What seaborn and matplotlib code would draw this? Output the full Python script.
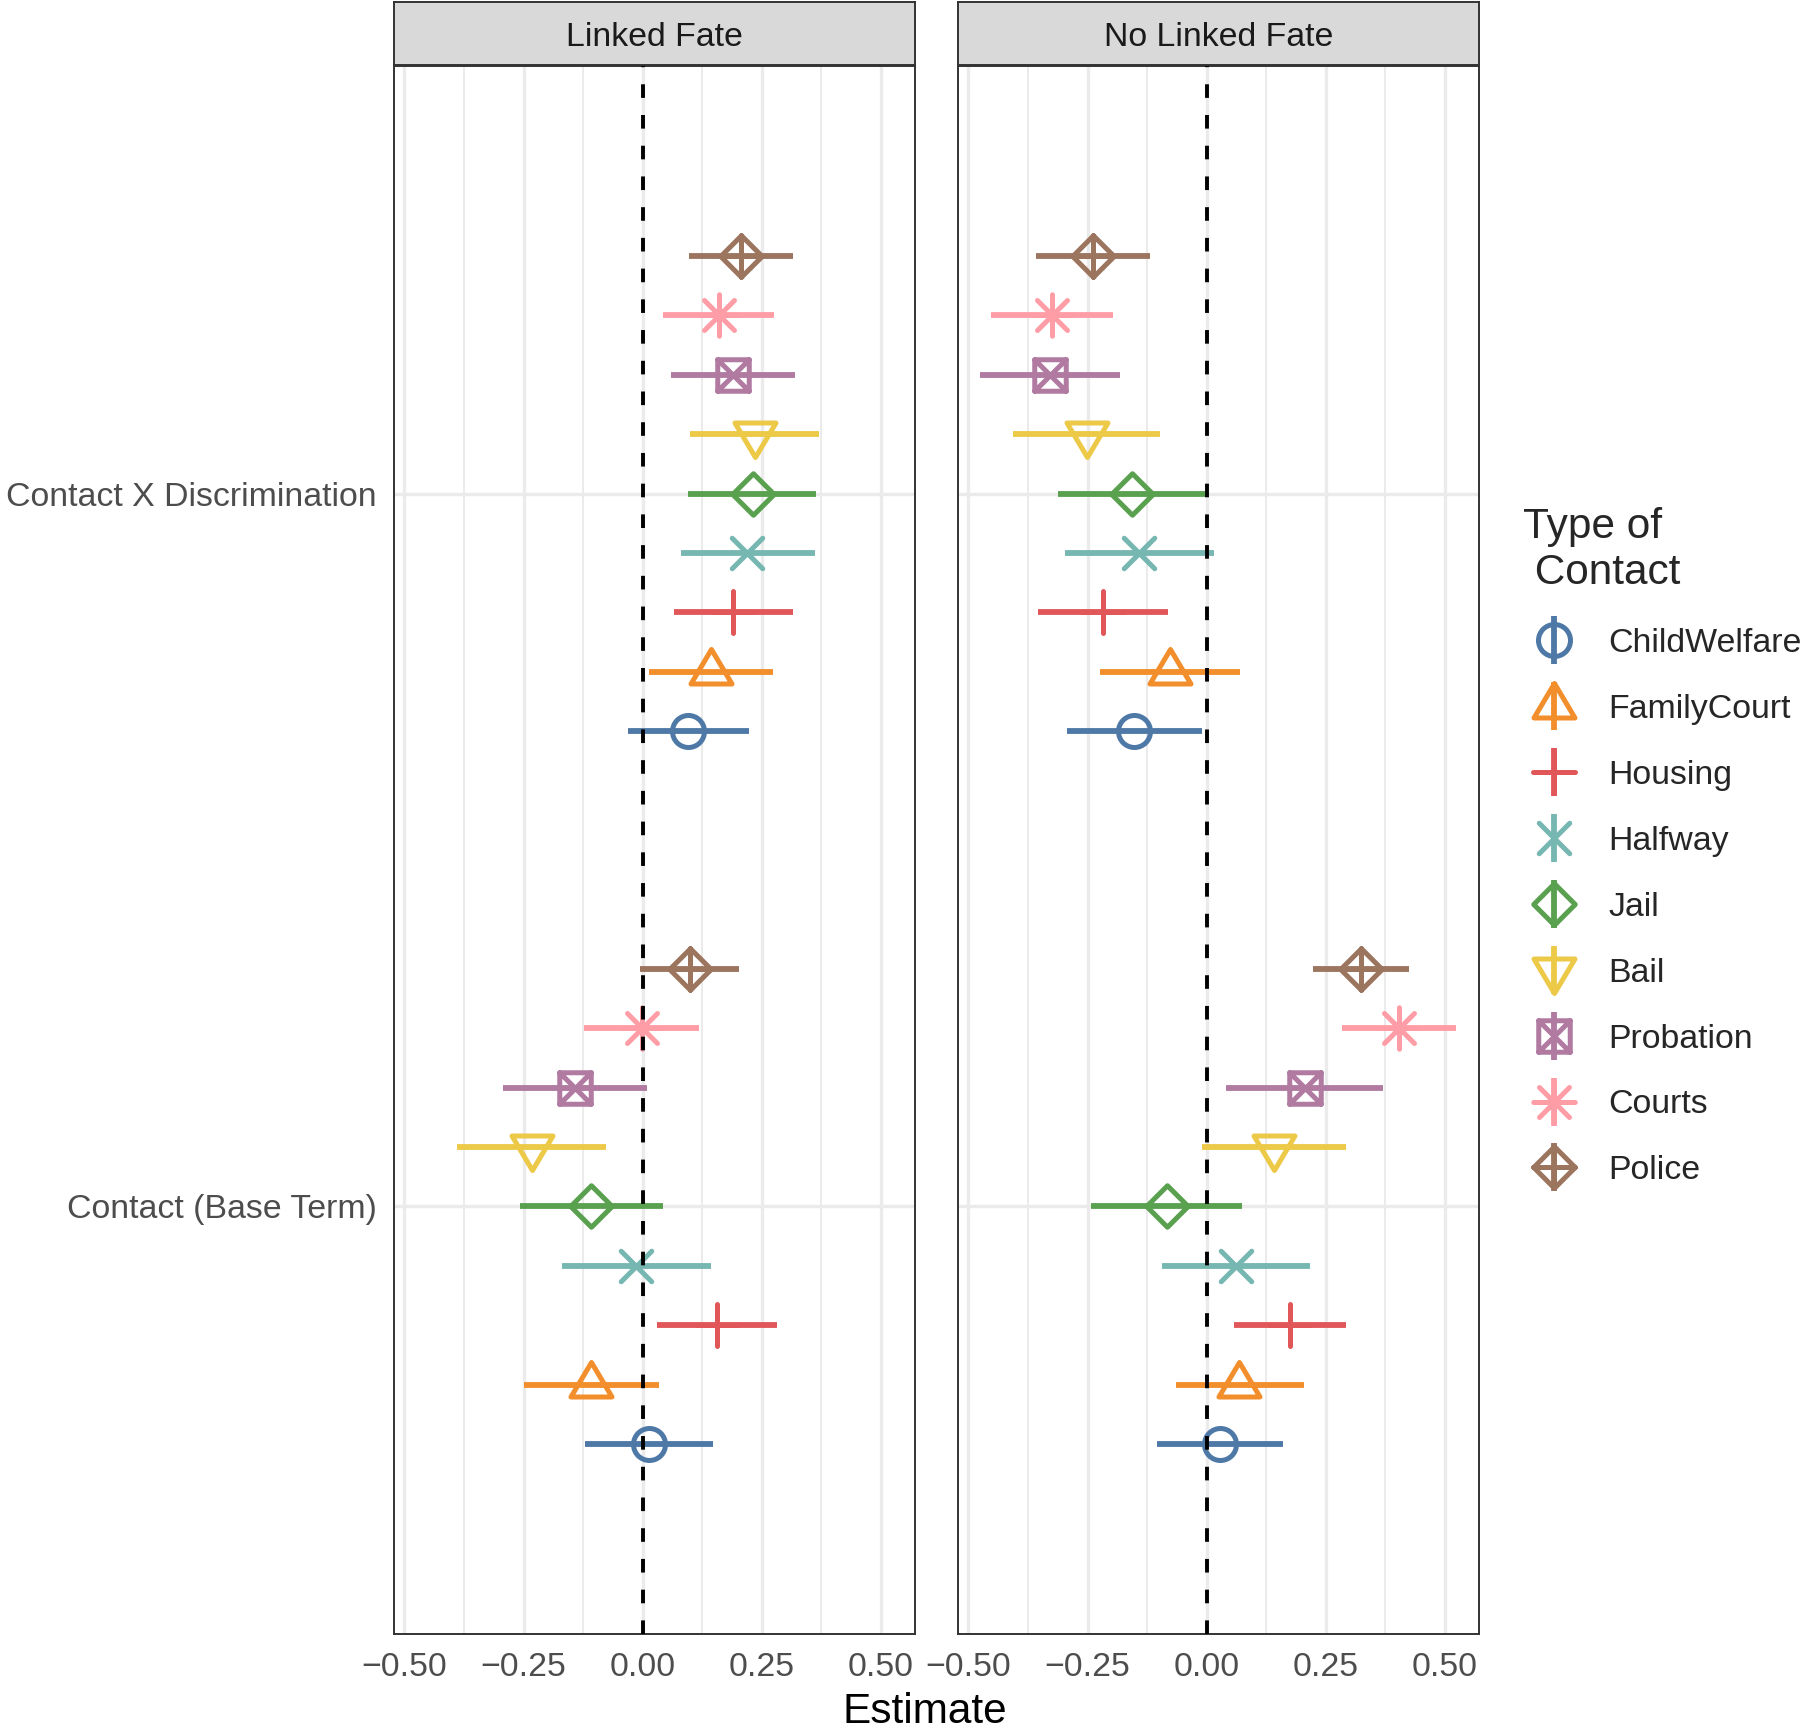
import matplotlib
matplotlib.use("Agg")
import matplotlib.pyplot as plt
from matplotlib.path import Path
from matplotlib.markers import MarkerStyle
from matplotlib.lines import Line2D
import pandas as pd
import seaborn as sns

contacts = ["ChildWelfare", "FamilyCourt", "Housing", "Halfway", "Jail",
            "Bail", "Probation", "Courts", "Police"]
terms = ["Contact X Discrimination", "Contact (Base Term)"]
facets = ["Linked Fate", "No Linked Fate"]
colors = ["#4E79A7", "#F28E2B", "#E15759", "#76B7B2", "#59A14F",
          "#EDC948", "#B07AA1", "#FF9DA7", "#9C755F"]
x_ticks = [-0.5, -0.25, 0.0, 0.25, 0.5]
x_labels = ["\u22120.50", "\u22120.25", "0.00", "0.25", "0.50"]

# estimate, lower and upper end of the interval (same order as contacts)
lf_int_est = [0.096, 0.143, 0.190, 0.220, 0.231, 0.235, 0.189, 0.160, 0.207]
lf_int_lo = [-0.030, 0.014, 0.066, 0.080, 0.096, 0.099, 0.059, 0.043, 0.098]
lf_int_hi = [0.223, 0.274, 0.315, 0.361, 0.364, 0.371, 0.319, 0.276, 0.315]

lf_base_est = [0.014, -0.108, 0.156, -0.013, -0.108, -0.233, -0.141, -0.002, 0.099]
lf_base_lo = [-0.120, -0.249, 0.030, -0.169, -0.258, -0.389, -0.294, -0.123, -0.005]
lf_base_hi = [0.148, 0.034, 0.282, 0.144, 0.043, -0.076, 0.010, 0.119, 0.202]

nlf_int_est = [-0.153, -0.076, -0.217, -0.142, -0.156, -0.252, -0.328, -0.325, -0.239]
nlf_int_lo = [-0.294, -0.224, -0.353, -0.297, -0.311, -0.407, -0.475, -0.453, -0.358]
nlf_int_hi = [-0.009, 0.071, -0.080, 0.015, 0.000, -0.097, -0.181, -0.196, -0.118]

nlf_base_est = [0.028, 0.069, 0.175, 0.062, -0.083, 0.141, 0.206, 0.404, 0.324]
nlf_base_lo = [-0.105, -0.064, 0.057, -0.093, -0.242, -0.010, 0.040, 0.285, 0.224]
nlf_base_hi = [0.161, 0.204, 0.293, 0.218, 0.074, 0.292, 0.371, 0.523, 0.424]

series = {
    (facets[0], terms[0]): (lf_int_est, lf_int_lo, lf_int_hi),
    (facets[0], terms[1]): (lf_base_est, lf_base_lo, lf_base_hi),
    (facets[1], terms[0]): (nlf_int_est, nlf_int_lo, nlf_int_hi),
    (facets[1], terms[1]): (nlf_base_est, nlf_base_lo, nlf_base_hi),
}

# three rows per point: median = estimate, min/max = interval ends
rows = []
for (facet, term), (est, lo, hi) in series.items():
    for c, e, l, h in zip(contacts, est, lo, hi):
        for v in (l, e, h):
            rows.append({"facet": facet, "term": term, "contact": c, "value": v})
df = pd.DataFrame(rows)
palette = dict(zip(contacts, colors))

# ggplot-like shapes 1..9, one path unit = one pixel
M, L, C = Path.MOVETO, Path.LINETO, Path.CLOSEPOLY
R = 24


def seg_plus(r):
    return Path([(0, -r), (0, r), (-r, 0), (r, 0)], [M, L, M, L])


def seg_x(r):
    return Path([(-r, -r), (r, r), (-r, r), (r, -r)], [M, L, M, L])


def make_marker(*parts, cap="round"):
    anchor = Path([(R, 0)], [M])
    return MarkerStyle(Path.make_compound_path(anchor, *parts),
                       joinstyle="round", capstyle=cap)


circle = Path.circle((0, 0), 16)
tri_up = Path([(0, 23), (-20.5, -11.5), (20.5, -11.5), (0, 23)], [M, L, L, C])
tri_down = Path([(0, -23), (-20.5, 11.5), (20.5, 11.5), (0, -23)], [M, L, L, C])
diamond = Path([(0, 20.75), (20.75, 0), (0, -20.75), (-20.75, 0), (0, 20.75)], [M, L, L, L, C])
square = Path([(-15.75, -15.75), (15.75, -15.75), (15.75, 15.75), (-15.75, 15.75), (-15.75, -15.75)],
              [M, L, L, L, C])

shapes = {
    "ChildWelfare": make_marker(circle),
    "FamilyCourt": make_marker(tri_up),
    "Housing": make_marker(seg_plus(20.75)),
    "Halfway": make_marker(seg_x(15.25)),
    "Jail": make_marker(diamond),
    "Bail": make_marker(tri_down),
    "Probation": make_marker(square, seg_x(15.75)),
    "Courts": make_marker(seg_plus(20.75), seg_x(15)),
    "Police": make_marker(diamond, seg_plus(20.75)),
}
vbar = MarkerStyle(Path([(0, -R), (0, R)], [M, L]), capstyle="butt")

msize = 2 * R * 0.72
mew = 3.6
elw = 4.2

sns.set_theme(style="white")
plt.rcParams["font.family"] = ["Liberation Sans", "DejaVu Sans"]

W, H = 1800, 1729
fig = plt.figure(figsize=(W / 100, H / 100), dpi=100)

panel_left = [394, 958]
panel_w = 521
panel_top, panel_bottom = 66, 1634
hue_order = contacts[::-1]

axes = []
for i, facet in enumerate(facets):
    ax = fig.add_axes([panel_left[i] / W, 1 - panel_bottom / H,
                       panel_w / W, (panel_bottom - panel_top) / H])
    sub = df[df["facet"] == facet]
    sns.pointplot(data=sub, x="value", y="term", hue="contact", order=terms,
                  hue_order=hue_order, palette=palette, estimator="median",
                  errorbar=("pi", 100), dodge=0.75 * 8 / 9, orient="y",
                  markers=[shapes[c] for c in hue_order], linestyles="none",
                  err_kws={"linewidth": elw, "solid_capstyle": "butt"},
                  markersize=msize, markeredgewidth=mew,
                  legend=False, ax=ax)
    for ln in ax.lines:
        ln.set_markerfacecolor("none")

    ax.axvline(0, color="black", linestyle=(0, (3.5, 4.4)), linewidth=2.8, zorder=5)
    ax.set_xlim(-0.522, 0.572)
    ax.set_ylim(1.6, -0.6)
    ax.set_xticks(x_ticks)
    ax.set_xticklabels(x_labels)
    ax.set_xticks([-0.375, -0.125, 0.125, 0.375], minor=True)
    ax.grid(True, which="major", color="#EBEBEB", linewidth=2.4)
    ax.grid(True, which="minor", axis="x", color="#EBEBEB", linewidth=1.4)
    ax.set_axisbelow(True)
    ax.set_xlabel("")
    ax.set_ylabel("")
    for sp in ax.spines.values():
        sp.set_visible(True)
        sp.set_color("#333333")
        sp.set_linewidth(1.4)
    ax.tick_params(axis="both", which="major", length=7.6, width=1.4,
                   color="#333333", labelsize=24.4, labelcolor="#4D4D4D", pad=5)
    ax.tick_params(axis="both", which="minor", length=0)
    if i == 1:
        ax.tick_params(axis="y", length=0, labelleft=False)

    # facet strip
    sax = fig.add_axes([panel_left[i] / W, 1 - 65 / H, panel_w / W, 63 / H])
    sax.set_facecolor("#D9D9D9")
    sax.set_xticks([])
    sax.set_yticks([])
    for sp in sax.spines.values():
        sp.set_color("#333333")
        sp.set_linewidth(1.4)
    sax.text(0.5, 0.44, facet, ha="center", va="center", fontsize=24.4,
             color="#1A1A1A", transform=sax.transAxes)
    axes.append(ax)

fig.text(925 / W, 6 / H, "Estimate", ha="center", va="baseline",
         fontsize=30.5, color="black")

handles = []
for c in contacts:
    bar = Line2D([], [], linestyle="none", marker=vbar, markersize=msize,
                 markeredgewidth=elw, color=palette[c])
    pt = Line2D([], [], linestyle="none", marker=shapes[c], markersize=msize,
                markeredgewidth=mew, color=palette[c], markerfacecolor="none")
    handles.append((bar, pt))

fig.legend(handles, contacts, title="Type of\n Contact", loc="upper left",
           bbox_to_anchor=(1523 / W, 1 - 507 / H), frameon=False,
           fontsize=24.4, title_fontsize=30.5, borderpad=0, borderaxespad=0,
           handlelength=1.83, handletextpad=0.68, labelspacing=1.03,
           alignment="left")

fig.savefig("out.png", dpi=100)
